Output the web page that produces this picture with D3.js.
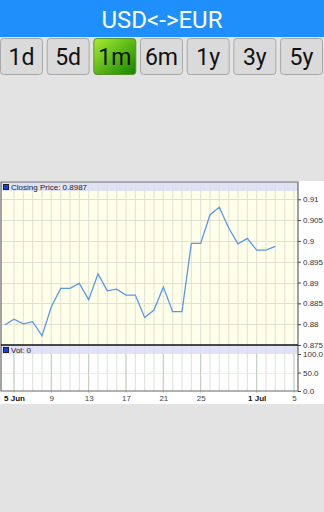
<!DOCTYPE html>
<html>
<head>
<meta charset="utf-8">
<script src="https://cdn.jsdelivr.net/npm/d3@7"></script>
<style>
	body { margin: 0; background: #e3e3e3; }
	svg { display: block; }
</style>
</head>
<body>
<svg id="app" width="324" height="512"></svg>
<script>
const title = 'USD<->EUR';
const ranges = ['1d', '5d', '1m', '6m', '1y', '3y', '5y'];
const selectedRange = '1m';

const dates = [
	'2015-06-04', '2015-06-05', '2015-06-06', '2015-06-07', '2015-06-08', '2015-06-09',
	'2015-06-10', '2015-06-11', '2015-06-12', '2015-06-13', '2015-06-14', '2015-06-15',
	'2015-06-16', '2015-06-17', '2015-06-18', '2015-06-19', '2015-06-20', '2015-06-21',
	'2015-06-22', '2015-06-23', '2015-06-24', '2015-06-25', '2015-06-26', '2015-06-27',
	'2015-06-28', '2015-06-29', '2015-06-30', '2015-07-01', '2015-07-02', '2015-07-03',
];
const closes = [
	0.8798, 0.8812, 0.8801, 0.8806, 0.8772, 0.8842,
	0.8886, 0.8886, 0.8898, 0.8859, 0.8921, 0.8880,
	0.8884, 0.8870, 0.8870, 0.8816, 0.8834, 0.8889,
	0.8830, 0.8830, 0.8994, 0.8994, 0.9063, 0.9081,
	0.9031, 0.8993, 0.9006, 0.8978, 0.8978, 0.8987,
];
const volumes = dates.map(() => 0);

const xTickDates = ['2015-06-05', '2015-06-09', '2015-06-13', '2015-06-17', '2015-06-21', '2015-06-25', '2015-07-01', '2015-07-05'];
const xTickLabels = ['5 Jun', '9', '13', '17', '21', '25', '1 Jul', '5'];
const xTickBold = [true, false, false, false, false, false, true, false];
const priceTicks = [0.875, 0.88, 0.885, 0.89, 0.895, 0.9, 0.905, 0.91];
const priceTickLabels = ['0.875', '0.88', '0.885', '0.89', '0.895', '0.9', '0.905', '0.91'];
const volTicks = [0, 50, 100];
const volTickLabels = ['0.0', '50.0', '100.0'];

const parse = d3.timeParse('%Y-%m-%d');
const svg = d3.select('#app');

// header
svg.append('rect')
	.attr('x', 0).attr('y', 0).attr('width', 324).attr('height', 37)
	.attr('fill', '#1f8ffb');
svg.append('text')
	.attr('x', 162).attr('y', 28)
	.attr('text-anchor', 'middle')
	.attr('font-family', 'Roboto')
	.attr('font-size', 24)
	.attr('fill', 'white')
	.text(title);

const defs = svg.append('defs');
const grad = defs.append('linearGradient')
	.attr('id', 'selGrad')
	.attr('x1', '0%').attr('y1', '0%').attr('x2', '100%').attr('y2', '100%');
grad.append('stop').attr('offset', '0%').attr('stop-color', '#a6ee30');
grad.append('stop').attr('offset', '100%').attr('stop-color', '#148400');

const btn = d3.scaleBand().domain(ranges).range([0, 323]).paddingInner(0.08).paddingOuter(0);
const buttons = svg.selectAll('g.btn').data(ranges).enter().append('g')
	.attr('class', 'btn')
	.attr('transform', (d) => `translate(${btn(d)},38)`);
buttons.append('rect')
	.attr('x', 0.5).attr('y', 0.5)
	.attr('width', btn.bandwidth() - 1).attr('height', 36)
	.attr('rx', 3)
	.attr('fill', (d) => d === selectedRange ? 'url(#selGrad)' : '#dadada')
	.attr('stroke', (d) => d === selectedRange ? '#5e8f2a' : '#a8a8a8');
buttons.append('text')
	.attr('x', btn.bandwidth() / 2).attr('y', 27)
	.attr('text-anchor', 'middle')
	.attr('font-family', 'Roboto')
	.attr('font-size', 23)
	.attr('fill', '#111')
	.text((d) => d);

// chart area
const chart = svg.append('g');
chart.append('rect')
	.attr('x', 0).attr('y', 181).attr('width', 324).attr('height', 223)
	.attr('fill', 'white');

const left = 1, right = 298;
const priceTop = 182, priceBottom = 345;
const volTop = 345, volBottom = 391;

const x = d3.scaleTime()
	.domain([parse('2015-06-04'), parse('2015-07-05')])
	.range([4.67, 294]);
const yPrice = d3.scaleLinear().domain([0.875, 0.91]).range([priceBottom, 199.3]);
const yVol = d3.scaleLinear().domain([0, 100]).range([volBottom, 354]);

const gridDays = d3.timeDay.range(parse('2015-06-05'), d3.timeDay.offset(parse('2015-07-05'), 1));
const tickDates = xTickDates.map(parse);

// price panel
chart.append('rect')
	.attr('x', left).attr('y', priceTop)
	.attr('width', right - left).attr('height', priceBottom - priceTop)
	.attr('fill', '#ffffea');
chart.selectAll('line.pgrid-x').data(gridDays).enter().append('line')
	.attr('x1', (d) => x(d)).attr('x2', (d) => x(d))
	.attr('y1', priceTop).attr('y2', priceBottom)
	.attr('stroke', '#e0e0d4').attr('stroke-width', 1);
chart.selectAll('line.pgrid-y').data(priceTicks.slice(1)).enter().append('line')
	.attr('x1', left).attr('x2', right)
	.attr('y1', (d) => Math.round(yPrice(d)) + 0.5).attr('y2', (d) => Math.round(yPrice(d)) + 0.5)
	.attr('stroke', '#e0e0d4').attr('stroke-width', 1);
chart.append('rect')
	.attr('x', left).attr('y', priceTop)
	.attr('width', right - left).attr('height', 9)
	.attr('fill', '#dcdcf6').attr('opacity', 0.85);

const priceLine = d3.line()
	.x((d, i) => x(parse(dates[i])))
	.y((d) => yPrice(d));
chart.append('path')
	.datum(closes)
	.attr('d', priceLine)
	.attr('fill', 'none')
	.attr('stroke', '#5699ec')
	.attr('stroke-width', 1.3);

chart.append('rect')
	.attr('x', 3.5).attr('y', 184.5).attr('width', 5).attr('height', 5)
	.attr('fill', '#1144dd').attr('stroke', '#222');
chart.append('text')
	.attr('x', 11).attr('y', 190)
	.attr('font-family', 'Liberation Sans, Arial')
	.attr('font-size', 8)
	.attr('fill', '#222')
	.text(`Closing Price: ${closes[closes.length - 1].toFixed(4)}`);

// volume panel
chart.append('rect')
	.attr('x', left).attr('y', volTop)
	.attr('width', right - left).attr('height', volBottom - volTop)
	.attr('fill', 'white');
chart.selectAll('line.vgrid-x').data(gridDays).enter().append('line')
	.attr('x1', (d) => x(d)).attr('x2', (d) => x(d))
	.attr('y1', volTop).attr('y2', volBottom)
	.attr('stroke', '#d8e2d8').attr('stroke-width', 1);
chart.selectAll('line.vgrid-y').data(volTicks.slice(1, 2)).enter().append('line')
	.attr('x1', left).attr('x2', right)
	.attr('y1', (d) => Math.round(yVol(d)) + 0.5).attr('y2', (d) => Math.round(yVol(d)) + 0.5)
	.attr('stroke', '#ececec').attr('stroke-width', 1);
chart.append('rect')
	.attr('x', left).attr('y', volTop)
	.attr('width', right - left).attr('height', 9)
	.attr('fill', '#dcdcf6').attr('opacity', 0.85);
chart.selectAll('rect.vol').data(volumes).enter().append('rect')
	.attr('x', (d, i) => x(parse(dates[i])) - 3)
	.attr('y', (d) => yVol(d))
	.attr('width', 6)
	.attr('height', (d) => yVol(0) - yVol(d))
	.attr('fill', '#5699ec');
chart.selectAll('line.xtick').data(tickDates).enter().append('line')
	.attr('x1', (d) => x(d)).attr('x2', (d) => x(d))
	.attr('y1', volTop + 9).attr('y2', volBottom + 2)
	.attr('stroke', '#c2cec2').attr('stroke-width', 1);

chart.append('rect')
	.attr('x', 3.5).attr('y', 347.5).attr('width', 5).attr('height', 5)
	.attr('fill', '#1144dd').attr('stroke', '#222');
chart.append('text')
	.attr('x', 11).attr('y', 353)
	.attr('font-family', 'Liberation Sans, Arial')
	.attr('font-size', 8)
	.attr('fill', '#222')
	.text(`Vol: ${volumes[volumes.length - 1]}`);

// frames
chart.append('path')
	.attr('d', `M${left},${priceBottom}V${priceTop}H${right}V${volBottom}`)
	.attr('fill', 'none').attr('stroke', '#666').attr('stroke-width', 1.2);
chart.append('path')
	.attr('d', `M${left},${volTop}V${volBottom}H${right}`)
	.attr('fill', 'none').attr('stroke', '#666').attr('stroke-width', 1.2);
chart.append('line')
	.attr('x1', left).attr('x2', right)
	.attr('y1', priceBottom).attr('y2', priceBottom)
	.attr('stroke', '#111').attr('stroke-width', 1.6);

// axes
const axisFont = (g) => g
	.call((s) => s.select('.domain').remove())
	.call((s) => s.selectAll('text')
		.attr('font-family', 'Liberation Sans, Arial')
		.attr('font-size', 8)
		.attr('fill', '#333'))
	.call((s) => s.selectAll('line').attr('stroke', '#444'));

chart.append('g')
	.attr('transform', `translate(${right},0)`)
	.call(d3.axisRight(yPrice).tickValues(priceTicks)
		.tickFormat((d, i) => priceTickLabels[i]).tickSize(3).tickPadding(2))
	.call(axisFont);
chart.append('g')
	.attr('transform', `translate(${right},0)`)
	.call(d3.axisRight(yVol).tickValues(volTicks)
		.tickFormat((d, i) => volTickLabels[i]).tickSize(3).tickPadding(2))
	.call(axisFont);

const xAxis = chart.append('g')
	.attr('transform', `translate(0,${volBottom})`)
	.call(d3.axisBottom(x).tickValues(tickDates)
		.tickFormat((d, i) => xTickLabels[i]).tickSize(0).tickPadding(4))
	.call(axisFont);
xAxis.selectAll('text')
	.attr('font-weight', (d, i) => xTickBold[i] ? 'bold' : 'normal')
	.attr('fill', (d, i) => xTickBold[i] ? '#111' : '#444');
</script>
</body>
</html>
